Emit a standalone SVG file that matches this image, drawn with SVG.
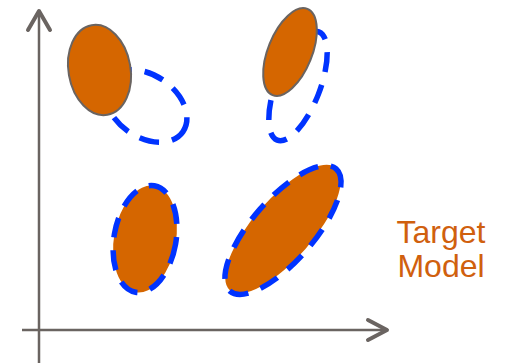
<svg xmlns="http://www.w3.org/2000/svg" width="507" height="363" viewBox="0 0 507 363">
  <style>
    .axis { stroke: #6a6461; stroke-width: 2.5; fill: none; }
    .head { stroke: #6a6461; stroke-width: 4; fill: none; stroke-linecap: round; stroke-linejoin: round; }
    .target { fill: #d56600; stroke: #6a6461; stroke-width: 2; }
    .target-plain { fill: #d56600; stroke: none; }
    .model { fill: none; stroke: #0033ff; stroke-width: 5.5; stroke-dasharray: 20 13; }
    .label { font-family: "Liberation Sans", Arial, sans-serif; font-size: 32px; fill: #d0600e; text-anchor: middle; }
  </style>

  <!-- axes -->
  <g id="axes">
    <line class="axis" x1="39" y1="12" x2="39" y2="363"/>
    <polyline class="head" points="28,30 39,11 50,30"/>
    <line class="axis" x1="22" y1="330" x2="386" y2="330"/>
    <polyline class="head" points="368,320 387,330 368,340"/>
  </g>

  <!-- connectors / model outlines -->
  <g id="connectors">
    <ellipse class="model" cx="146" cy="106" rx="45" ry="31" transform="rotate(35 146 106)" stroke-dashoffset="6"/>
    <ellipse class="model" cx="298" cy="86" rx="22" ry="58" transform="rotate(21 298 86)" stroke-dashoffset="10"/>
  </g>

  <g id="node-top-left">
    <ellipse class="target" cx="99.5" cy="70" rx="31" ry="45.5" transform="rotate(-10 99.5 70)"/>
  </g>

  <g id="node-top-right">
    <ellipse class="target" cx="290" cy="52" rx="22" ry="46.5" transform="rotate(22 290 52)"/>
  </g>

  <g id="node-bottom-left">
    <ellipse class="target-plain" cx="145" cy="239" rx="31" ry="54" transform="rotate(10 145 239)"/>
    <ellipse class="model" cx="145" cy="239" rx="31" ry="54" transform="rotate(10 145 239)"/>
  </g>

  <g id="node-bottom-right">
    <ellipse class="target-plain" cx="283" cy="229" rx="81" ry="30" transform="rotate(-49 283 229)"/>
    <ellipse class="model" cx="283" cy="230" rx="81" ry="31" transform="rotate(-49 283 230)"/>
  </g>

  <g id="legend">
    <text class="label" x="441" y="243">Target</text>
    <text class="label" x="441" y="277">Model</text>
  </g>
</svg>
